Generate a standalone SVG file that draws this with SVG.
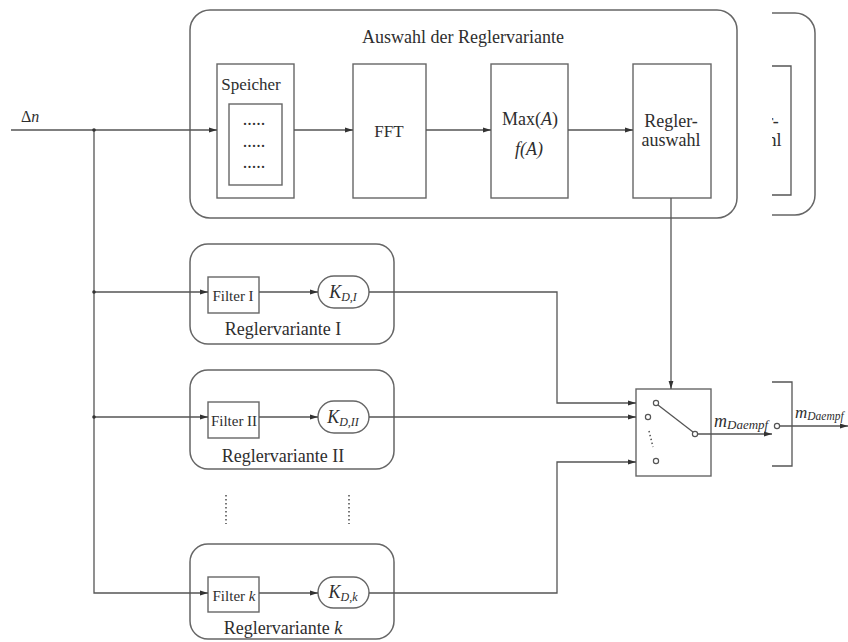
<svg xmlns="http://www.w3.org/2000/svg" width="848" height="642" viewBox="0 0 848 642">
  <style>
    .frame { fill: none; stroke: #666; stroke-width: 1.5; }
    .box { fill: #fff; stroke: #666; stroke-width: 1.4; }
    .wire { fill: none; stroke: #555; stroke-width: 1.3; }
    .arrow { marker-end: url(#head); }
    .dots { fill: none; stroke: #555; stroke-width: 1.6; stroke-dasharray: 1.4 2.6; }
    .pin { fill: #fff; stroke: #555; stroke-width: 1.2; }
    text { font-family: "Liberation Serif", "Times New Roman", serif; font-size: 18px; fill: #2e2e2e; }
    .mid { text-anchor: middle; }
    .it { font-style: italic; }
  </style>
  <defs>
    <marker id="head" markerWidth="8" markerHeight="6" refX="8" refY="3" orient="auto" markerUnits="userSpaceOnUse">
      <path d="M0,0.6 L8,3 L0,5.4 Z" fill="#333"/>
    </marker>
    <clipPath id="cutRight">
      <rect x="772" y="0" width="76" height="642"/>
    </clipPath>
  </defs>

  <rect width="848" height="642" fill="#fff"/>

  <!-- selection stage -->
  <g id="auswahl">
    <rect class="frame" x="190" y="10" width="547" height="208" rx="20"/>
    <text class="mid" x="463" y="43">Auswahl der Reglervariante</text>
  </g>
  <g id="speicher">
    <rect class="box" x="217" y="64" width="77" height="134"/>
    <text class="mid" x="251" y="90" style="font-size:17px">Speicher</text>
    <rect class="box" x="229" y="104" width="53" height="81"/>
    <text class="mid" x="254" y="125">.....</text>
    <text class="mid" x="254" y="147">.....</text>
    <text class="mid" x="254" y="168">.....</text>
  </g>
  <g id="fft">
    <rect class="box" x="353" y="64" width="73" height="134"/>
    <text class="mid" x="389" y="137" style="font-size:17px">FFT</text>
  </g>
  <g id="max">
    <rect class="box" x="491" y="64" width="77" height="134"/>
    <text class="mid" x="530" y="125">Max(<tspan class="it">A</tspan>)</text>
    <text class="mid it" x="529" y="155">f(A)</text>
  </g>
  <g id="reglerauswahl">
    <rect class="box" x="633" y="64" width="78" height="134"/>
    <text class="mid" x="671" y="127">Regler-</text>
    <text class="mid" x="671" y="146">auswahl</text>
  </g>

  <!-- neighbouring stage, cut at the left -->
  <g id="nachbar" clip-path="url(#cutRight)">
    <path class="frame" d="M700,13 H795 A20,20 0 0 1 815,33 V195 A20,20 0 0 1 795,215 H700"/>
    <path class="wire" d="M700,66 H791 V195 H700"/>
    <text class="mid" x="752" y="127">Regler-</text>
    <text class="mid" x="752" y="146">auswahl</text>
  </g>

  <!-- controller variants -->
  <g id="variante1">
    <rect class="frame" x="190" y="244" width="204" height="100" rx="18"/>
    <rect class="box" x="208" y="277" width="51" height="36"/>
    <text class="mid" x="233" y="301" style="font-size:15px">Filter I</text>
    <rect class="box" x="318" y="276" width="51" height="32" rx="16"/>
    <text class="mid it" x="343" y="298">K<tspan style="font-size:12px" dy="3">D,I</tspan></text>
    <text class="mid" x="283" y="335">Reglervariante I</text>
  </g>
  <g id="variante2">
    <rect class="frame" x="190" y="370" width="204" height="99" rx="18"/>
    <rect class="box" x="208" y="402" width="51" height="36"/>
    <text class="mid" x="234" y="426" style="font-size:15px">Filter II</text>
    <rect class="box" x="318" y="401" width="51" height="32" rx="16"/>
    <text class="mid it" x="343" y="423">K<tspan style="font-size:12px" dy="3">D,II</tspan></text>
    <text class="mid" x="283" y="462">Reglervariante II</text>
  </g>
  <g id="varianteK">
    <rect class="frame" x="190" y="544" width="204" height="95" rx="18"/>
    <rect class="box" x="208" y="577" width="51" height="35"/>
    <text class="mid" x="234" y="601" style="font-size:15px">Filter <tspan class="it">k</tspan></text>
    <rect class="box" x="318" y="577" width="51" height="31" rx="15.5"/>
    <text class="mid it" x="343" y="598">K<tspan style="font-size:12px" dy="3">D,k</tspan></text>
    <text class="mid" x="283" y="634">Reglervariante <tspan class="it">k</tspan></text>
  </g>
  <g id="auslassung">
    <line class="dots" x1="226" y1="495" x2="226" y2="524"/>
    <line class="dots" x1="349" y1="495" x2="349" y2="524"/>
  </g>

  <!-- switch -->
  <g id="schalter">
    <rect class="box" x="636" y="389" width="75" height="87"/>
    <line class="wire" x1="658" y1="405" x2="693" y2="432"/>
    <circle class="pin" cx="656" cy="403" r="2.6"/>
    <circle class="pin" cx="648" cy="417" r="2.6"/>
    <line class="dots" x1="649" y1="431" x2="653" y2="447"/>
    <circle class="pin" cx="656" cy="461" r="2.6"/>
    <circle class="pin" cx="695" cy="434" r="2.6"/>
  </g>

  <!-- output bracket -->
  <g id="ausgang">
    <path class="wire" d="M772,382 H792 V466 H772"/>
    <circle class="pin" cx="777" cy="426" r="2.6"/>
    <text class="it" x="714" y="427">m<tspan style="font-size:13px" dy="2">Daempf</tspan></text>
    <text class="it" x="795" y="418" style="font-size:17px">m<tspan style="font-size:11.5px" dy="2">Daempf</tspan></text>
  </g>

  <!-- connectors -->
  <g id="connectors">
    <text x="21" y="122" style="font-size:16px">Δ<tspan class="it">n</tspan></text>
    <line class="wire arrow" x1="11" y1="130" x2="217" y2="130"/>
    <line class="wire arrow" x1="294" y1="130" x2="353" y2="130"/>
    <line class="wire arrow" x1="426" y1="130" x2="491" y2="130"/>
    <line class="wire arrow" x1="568" y1="130" x2="633" y2="130"/>
    <line class="wire arrow" x1="671" y1="198" x2="671" y2="389"/>
    <path class="wire arrow" d="M94,130 V593 H208"/>
    <line class="wire arrow" x1="94" y1="292" x2="208" y2="292"/>
    <line class="wire arrow" x1="94" y1="417" x2="208" y2="417"/>
    <line class="wire arrow" x1="259" y1="292" x2="318" y2="292"/>
    <line class="wire arrow" x1="259" y1="417" x2="318" y2="417"/>
    <line class="wire arrow" x1="259" y1="593" x2="318" y2="593"/>
    <path class="wire arrow" d="M369,292 H557 V403 H636"/>
    <line class="wire arrow" x1="369" y1="417" x2="636" y2="417"/>
    <path class="wire arrow" d="M369,593 H557 V462 H636"/>
    <line class="wire arrow" x1="697" y1="434" x2="772" y2="434"/>
    <line class="wire arrow" x1="780" y1="426" x2="848" y2="426"/>
    <circle cx="94" cy="130" r="1.8" fill="#333"/>
    <circle cx="94" cy="292" r="1.8" fill="#333"/>
    <circle cx="94" cy="417" r="1.8" fill="#333"/>
  </g>
</svg>
